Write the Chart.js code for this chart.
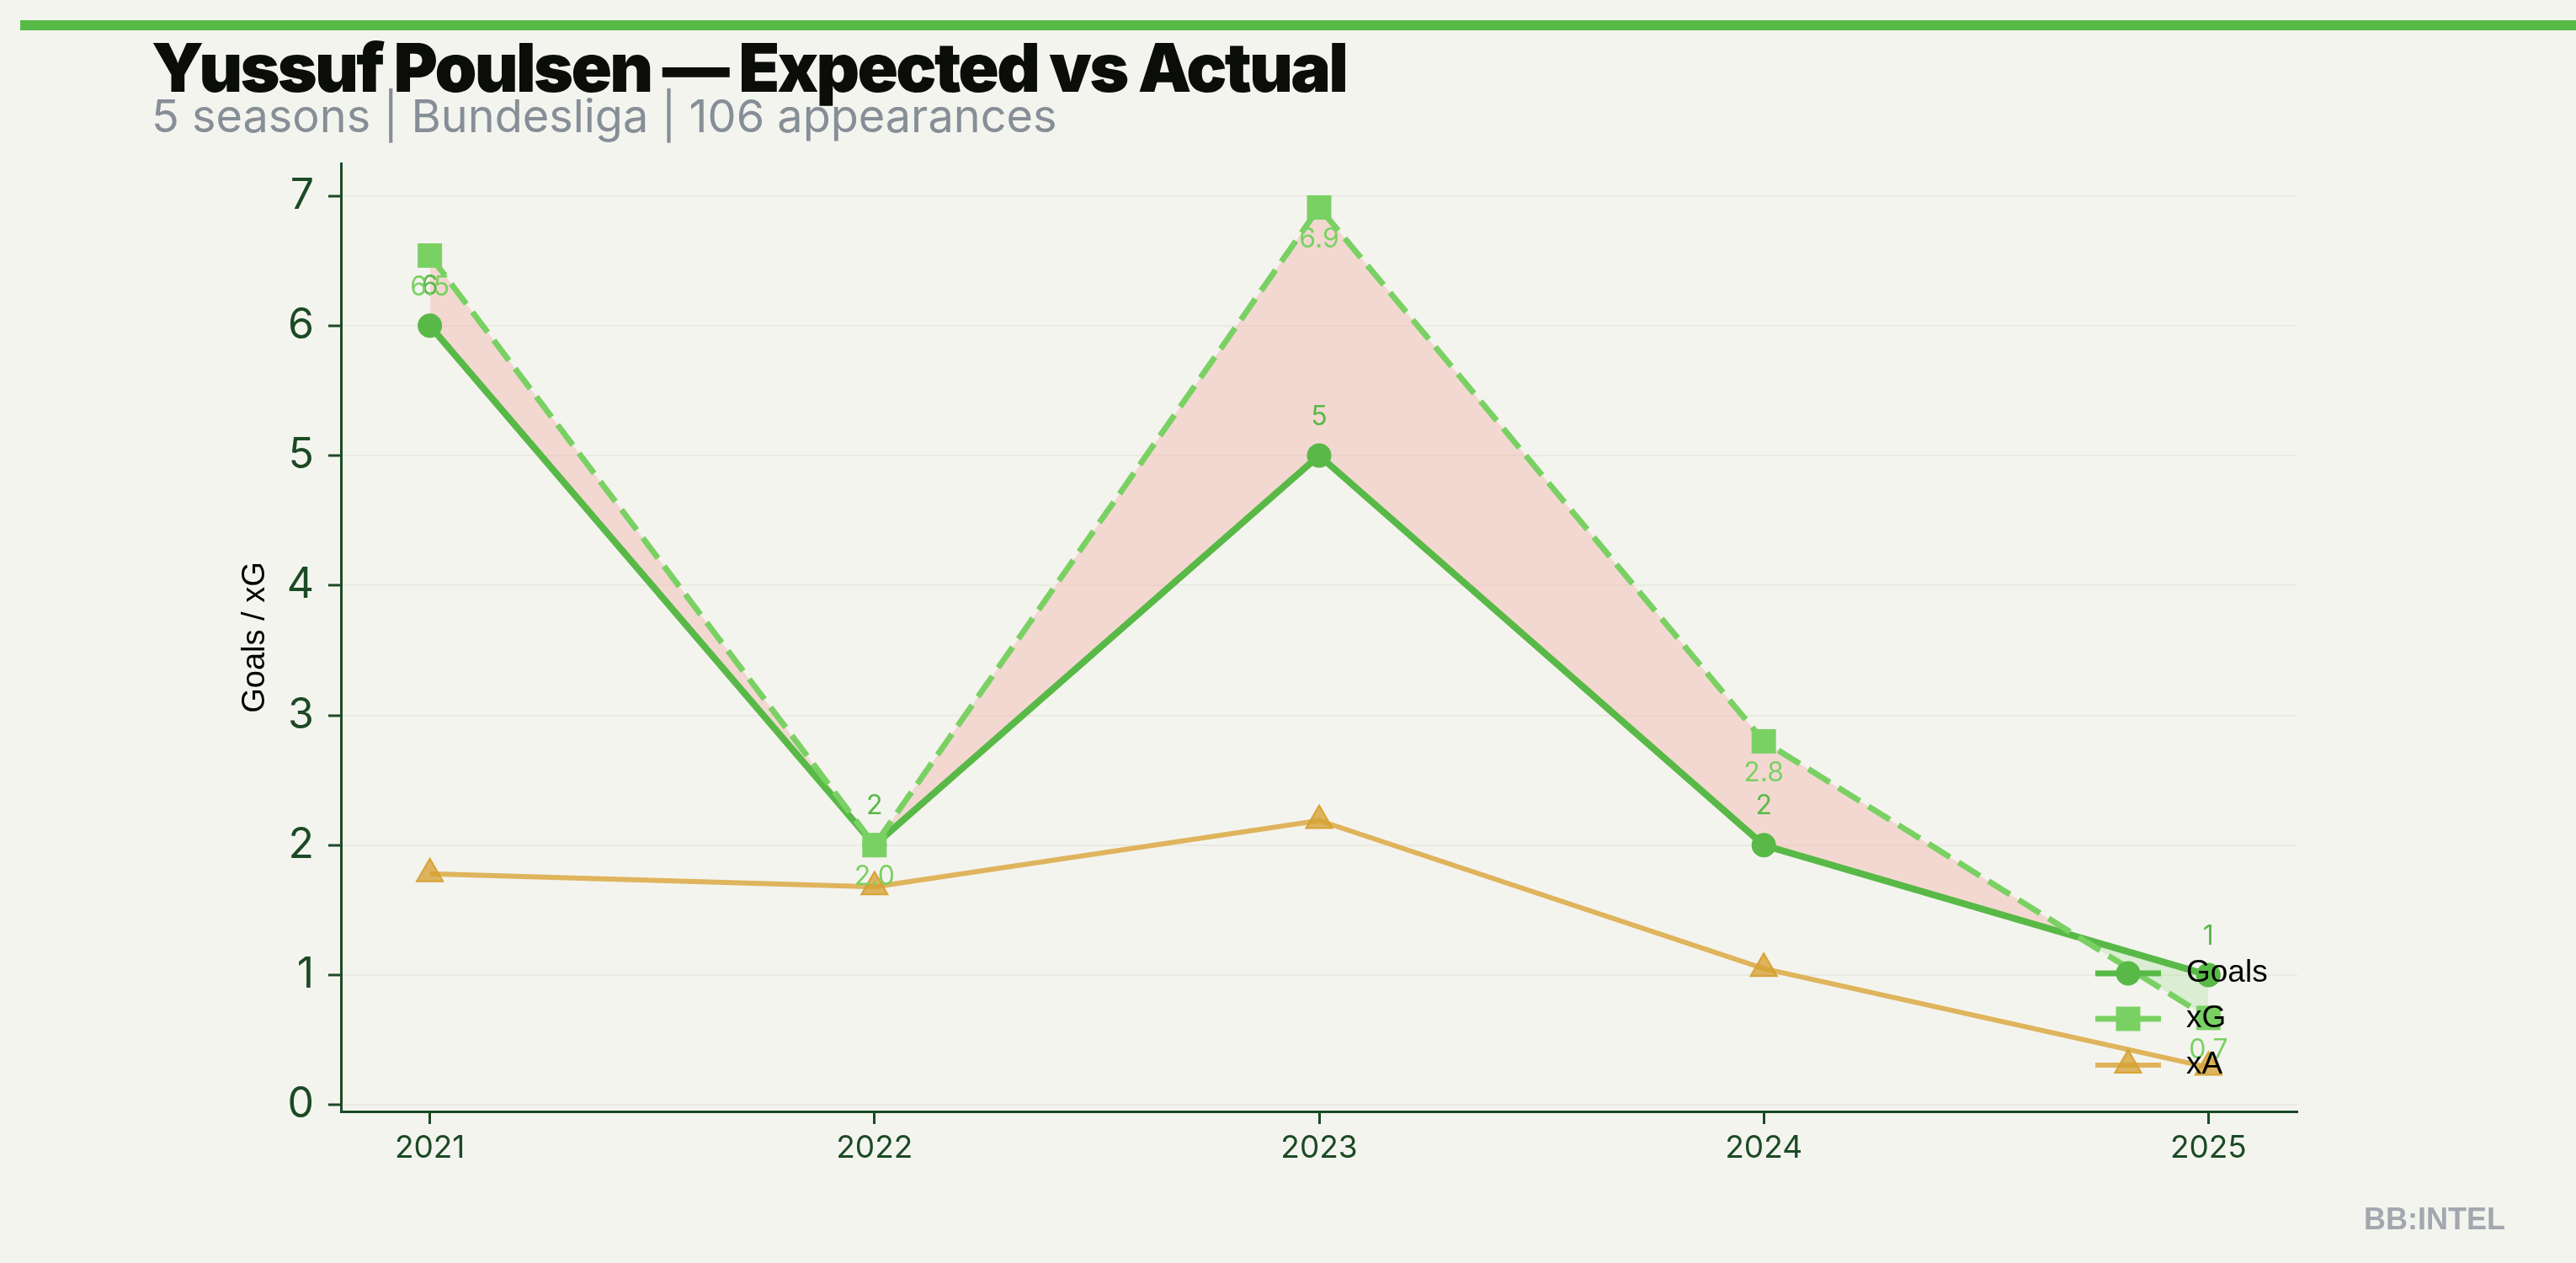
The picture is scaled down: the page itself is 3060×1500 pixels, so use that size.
<!DOCTYPE html>
<html>
<head>
<meta charset="utf-8">
<script src="https://cdn.jsdelivr.net/npm/chart.js@4/dist/chart.umd.min.js"></script>
<style>
    html, body {
        margin: 0;
        padding: 0;
        background: #f4f4ef;
    }
    #page {
        position: relative;
        width: 3060px;
        height: 1500px;
        overflow: hidden;
        background: #f4f4ef;
    }
    #top_bar {
        position: absolute;
        left: 24px;
        right: 0;
        top: 24px;
        height: 12px;
        background: #58b947;
    }
    #chart_title {
        position: absolute;
        left: 180px;
        top: 40px;
        font-family: 'Inter', sans-serif;
        font-weight: 900;
        font-size: 80px;
        letter-spacing: -2.7px;
        line-height: 1;
        color: #0b0d0b;
        white-space: nowrap;
    }
    #chart_subtitle {
        position: absolute;
        left: 180px;
        top: 111px;
        font-family: 'Inter', sans-serif;
        font-size: 54px;
        line-height: 1;
        color: #868e96;
        white-space: nowrap;
    }
    #brand_mark {
        position: absolute;
        left: 2808px;
        top: 1428px;
        font-family: 'Liberation Sans', sans-serif;
        font-weight: 700;
        font-size: 36px;
        line-height: 40px;
        color: #a3a7ae;
    }
    #chart_box {
        position: absolute;
        left: 0;
        top: 0;
    }
</style>
</head>
<body>
<div id="page">
    <canvas id="chart_box" width="3060" height="1500"></canvas>
    <div id="top_bar"></div>
    <div id="chart_title">Yussuf Poulsen — Expected vs Actual</div>
    <div id="chart_subtitle">5 seasons | Bundesliga | 106 appearances</div>
    <div id="brand_mark">BB:INTEL</div>
</div>
<script>
const seasons = [2021, 2022, 2023, 2024, 2025];
const goals_values = [6, 2, 5, 2, 1];
const xg_values = [6.54, 2.0, 6.91, 2.8, 0.67];
const xa_values = [1.78, 1.68, 2.19, 1.05, 0.29];
const y_ticks = [0, 1, 2, 3, 4, 5, 6, 7];

const palette = {
    goals_green: '#58b947',
    xg_green: '#7ad163',
    xa_gold: '#dfb45c',
    xa_marker: 'rgba(214, 160, 50, 0.78)',
    xa_edge: 'rgba(214, 160, 50, 0.95)',
    over_fill: 'rgba(240, 140, 128, 0.27)',
    under_fill: 'rgba(122, 209, 99, 0.2)',
    axis: '#1b4a25',
    grid: 'rgba(200, 200, 185, 0.22)',
};

function to_points(values) {
    return values.map(function (value, idx) {
        return { x: seasons[idx], y: value };
    });
}

// value labels: goals above the dot, xG below the square
const value_label_plugin = {
    id: 'value_labels',
    afterDatasetsDraw: function (chart) {
        const ctx = chart.ctx;
        ctx.save();
        ctx.font = '32px Inter';
        ctx.textAlign = 'center';
        ctx.textBaseline = 'middle';

        chart.getDatasetMeta(0).data.forEach(function (point, idx) {
            ctx.fillStyle = palette.goals_green;
            ctx.fillText(String(goals_values[idx]), point.x, point.y - 46);
        });

        chart.getDatasetMeta(1).data.forEach(function (point, idx) {
            ctx.fillStyle = palette.xg_green;
            ctx.fillText(xg_values[idx].toFixed(1), point.x, point.y + 38);
        });
        ctx.restore();
    },
};

function draw_marker(ctx, style, x, y) {
    ctx.beginPath();
    if (style === 'circle') {
        ctx.arc(x, y, 14.5, 0, Math.PI * 2);
    } else if (style === 'rect') {
        ctx.rect(x - 14.5, y - 14.5, 29, 29);
    } else {
        ctx.moveTo(x, y - 18);
        ctx.lineTo(x + 15.6, y + 9);
        ctx.lineTo(x - 15.6, y + 9);
        ctx.closePath();
    }
}

// legend sits inside the plot, lower right, without a frame
const inner_legend_plugin = {
    id: 'inner_legend',
    afterDraw: function (chart) {
        const ctx = chart.ctx;
        const area = chart.chartArea;
        const entries = [
            { text: 'Goals', color: palette.goals_green, fill: palette.goals_green, edge: null, width: 7, style: 'circle', dy: 164 },
            { text: 'xG', color: palette.xg_green, fill: palette.xg_green, edge: null, width: 7, style: 'rect', dy: 110 },
            { text: 'xA', color: palette.xa_gold, fill: palette.xa_marker, edge: palette.xa_edge, width: 6, style: 'triangle', dy: 55 },
        ];

        ctx.save();
        entries.forEach(function (entry) {
            const y = area.bottom - entry.dy;
            const x0 = area.right - 240;
            const x1 = area.right - 162;
            ctx.strokeStyle = entry.color;
            ctx.lineWidth = entry.width;
            ctx.beginPath();
            ctx.moveTo(x0, y);
            ctx.lineTo(x1, y);
            ctx.stroke();

            draw_marker(ctx, entry.style, (x0 + x1) / 2, y);
            ctx.fillStyle = entry.fill;
            ctx.fill();
            if (entry.edge) {
                ctx.strokeStyle = entry.edge;
                ctx.lineWidth = 2;
                ctx.stroke();
            }

            ctx.fillStyle = '#000000';
            ctx.font = '37px "Liberation Sans"';
            ctx.textAlign = 'left';
            ctx.textBaseline = 'middle';
            ctx.fillText(entry.text, area.right - 132, y);
        });
        ctx.restore();
    },
};

function build_chart() {
    const canvas = document.getElementById('chart_box');

    return new Chart(canvas.getContext('2d'), {
        type: 'line',
        data: {
            datasets: [
                {
                    label: 'Goals',
                    data: to_points(goals_values),
                    borderColor: palette.goals_green,
                    backgroundColor: palette.goals_green,
                    borderWidth: 8,
                    pointStyle: 'circle',
                    pointRadius: 14.5,
                    pointBorderWidth: 0,
                    fill: false,
                    tension: 0,
                    order: 3,
                },
                {
                    label: 'xG',
                    data: to_points(xg_values),
                    borderColor: palette.xg_green,
                    backgroundColor: palette.xg_green,
                    pointBackgroundColor: palette.xg_green,
                    borderWidth: 7,
                    borderDash: [30, 12],
                    pointStyle: 'rect',
                    pointRadius: 20.5,
                    pointBorderWidth: 0,
                    fill: {
                        target: 0,
                        above: palette.over_fill,
                        below: palette.under_fill,
                    },
                    tension: 0,
                    order: 2,
                },
                {
                    label: 'xA',
                    data: to_points(xa_values),
                    borderColor: palette.xa_gold,
                    backgroundColor: palette.xa_marker,
                    pointBackgroundColor: palette.xa_marker,
                    pointBorderColor: palette.xa_edge,
                    pointBorderWidth: 2,
                    borderWidth: 6,
                    pointStyle: 'triangle',
                    pointRadius: 18,
                    fill: false,
                    tension: 0,
                    order: 1,
                },
            ],
        },
        options: {
            responsive: false,
            animation: false,
            events: [],
            layout: {
                padding: { left: 260, right: 331, top: 194, bottom: 100 },
            },
            plugins: {
                legend: { display: false },
                tooltip: { enabled: false },
                filler: { drawTime: 'beforeDatasetsDraw' },
            },
            scales: {
                x: {
                    type: 'linear',
                    min: 2020.8,
                    max: 2025.2,
                    afterBuildTicks: function (axis) {
                        axis.ticks = seasons.map(function (v) { return { value: v }; });
                    },
                    afterFit: function (axis) {
                        axis.height = 80;
                    },
                    ticks: {
                        color: palette.axis,
                        font: { family: 'Inter', size: 37 },
                        padding: 7,
                        maxRotation: 0,
                        callback: function (value) { return String(value); },
                    },
                    grid: {
                        drawOnChartArea: false,
                        tickLength: 15,
                        tickWidth: 3,
                        tickColor: palette.axis,
                    },
                    border: { color: palette.axis, width: 3 },
                },
                y: {
                    min: -0.05,
                    max: 7.25,
                    afterBuildTicks: function (axis) {
                        axis.ticks = y_ticks.map(function (v) { return { value: v }; });
                    },
                    afterFit: function (axis) {
                        axis.width = 145;
                    },
                    ticks: {
                        color: palette.axis,
                        font: { family: 'Inter', size: 50 },
                        padding: 17,
                    },
                    grid: {
                        color: palette.grid,
                        lineWidth: 2,
                        tickLength: 15,
                        tickWidth: 3,
                        tickColor: palette.axis,
                    },
                    border: { color: palette.axis, width: 3 },
                    title: {
                        display: true,
                        text: 'Goals / xG',
                        color: '#000000',
                        font: { family: 'Liberation Sans', size: 38 },
                        padding: { top: 21, bottom: 0 },
                    },
                },
            },
        },
        plugins: [value_label_plugin, inner_legend_plugin],
    });
}

build_chart();
</script>
</body>
</html>
